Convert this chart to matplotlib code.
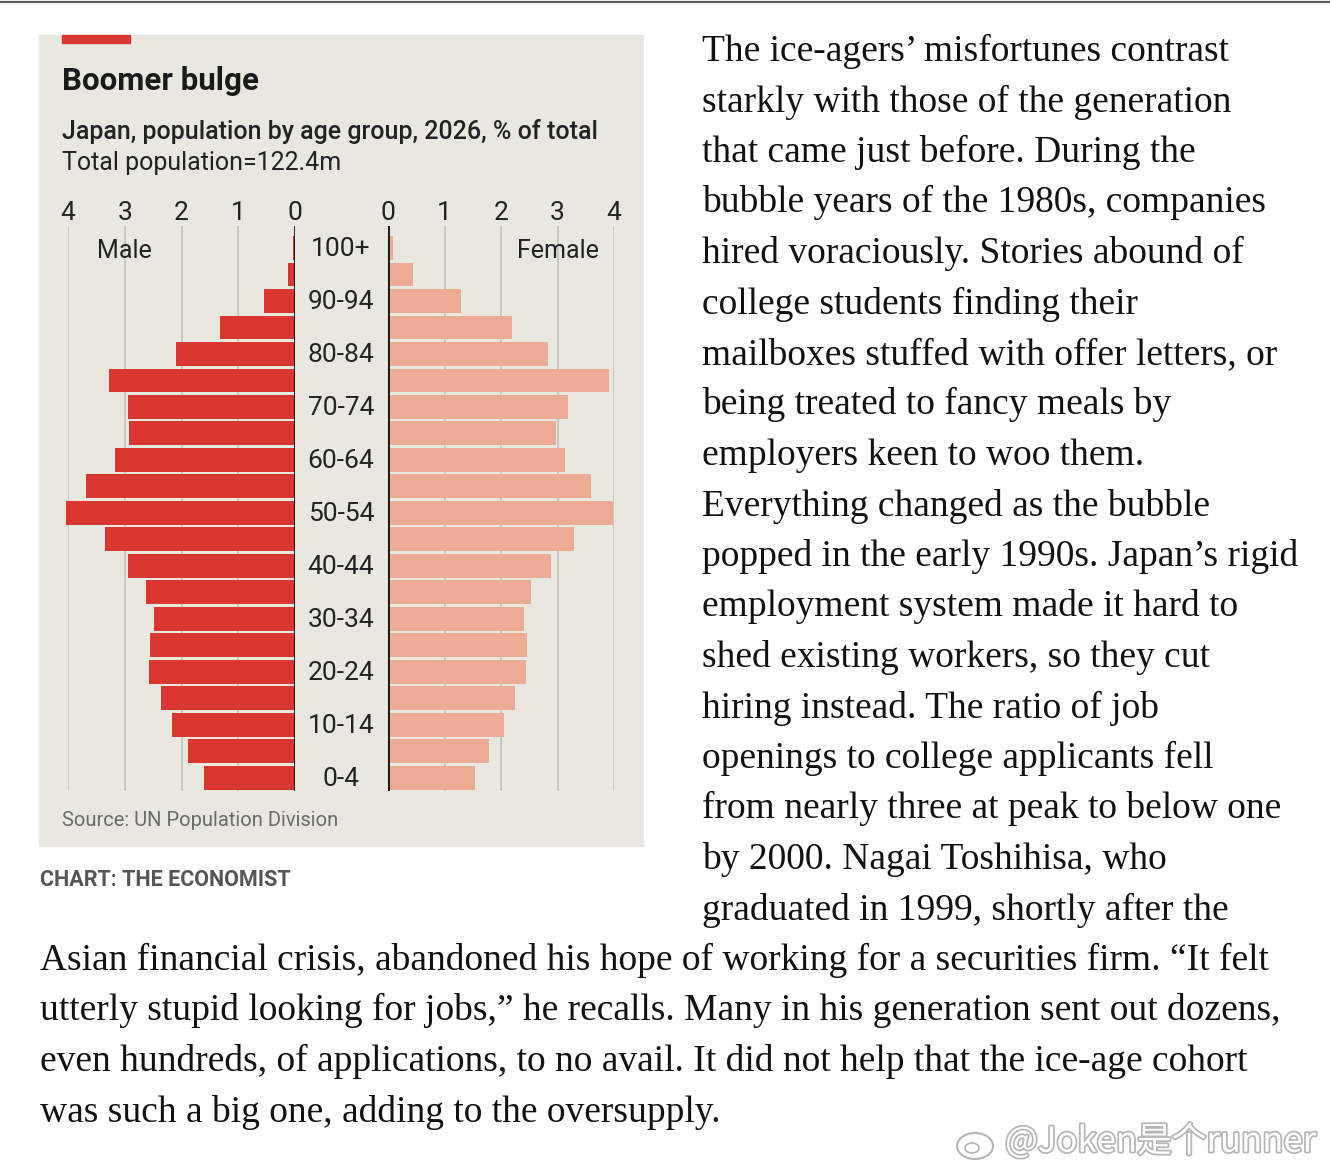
import matplotlib
matplotlib.use("Agg")
import matplotlib.pyplot as plt
import matplotlib.patheffects as pe
import matplotlib.transforms as mtransforms
from matplotlib.patches import Rectangle, Ellipse
from matplotlib.lines import Line2D

W, H = 1330, 1174

# data: Japan population by age group, 2026, % of total
ages = ["0-4", "5-9", "10-14", "15-19", "20-24", "25-29", "30-34", "35-39",
        "40-44", "45-49", "50-54", "55-59", "60-64", "65-69", "70-74",
        "75-79", "80-84", "85-89", "90-94", "95-99", "100+"]
male = [1.60, 1.88, 2.17, 2.37, 2.57, 2.55, 2.49, 2.62, 2.94, 3.34, 4.03,
        3.68, 3.17, 2.92, 2.94, 3.28, 2.10, 1.32, 0.55, 0.12, 0.03]
female = [1.54, 1.79, 2.06, 2.25, 2.45, 2.46, 2.40, 2.53, 2.88, 3.30, 3.98,
          3.60, 3.13, 2.98, 3.18, 3.91, 2.83, 2.19, 1.30, 0.45, 0.08]
ticks = [0, 1, 2, 3, 4]

body_right = [
    "The ice-agers\u2019 misfortunes contrast",
    "starkly with those of the generation",
    "that came just before. During the",
    "bubble years of the 1980s, companies",
    "hired voraciously. Stories abound of",
    "college students finding their",
    "mailboxes stuffed with offer letters, or",
    "being treated to fancy meals by",
    "employers keen to woo them.",
    "Everything changed as the bubble",
    "popped in the early 1990s. Japan\u2019s rigid",
    "employment system made it hard to",
    "shed existing workers, so they cut",
    "hiring instead. The ratio of job",
    "openings to college applicants fell",
    "from nearly three at peak to below one",
    "by 2000. Nagai Toshihisa, who",
    "graduated in 1999, shortly after the",
]
body_full = [
    "Asian financial crisis, abandoned his hope of working for a securities firm. \u201cIt felt",
    "utterly stupid looking for jobs,\u201d he recalls. Many in his generation sent out dozens,",
    "even hundreds, of applications, to no avail. It did not help that the ice-age cohort",
    "was such a big one, adding to the oversupply.",
]

RED = "#db3731"
PINK = "#ecac93"
BG = "#e9e8e0"
GRID = "#c8c8c2"
INK = "#222222"
SANS = ["Roboto", "DejaVu Sans"]
SERIF = ["Liberation Serif", "DejaVu Serif"]


def fx(x):
    return x / W


def fy(y):
    return 1 - y / H


def box(x0, y0, x1, y1):
    return [fx(x0), fy(y1), (x1 - x0) / W, (y1 - y0) / H]


fig = plt.figure(figsize=(W / 100, H / 100), dpi=100)
fig.patch.set_facecolor("white")

# top rule of the page
fig.add_artist(Line2D([0, 1], [fy(1.5), fy(1.5)], color="#5a5a5a", lw=1.6))

# chart panel + red tag
fig.add_artist(Rectangle((fx(39), fy(846)), (643 - 39) / W, (846 - 35) / H,
                         transform=fig.transFigure, color=BG, zorder=0))
fig.add_artist(Rectangle((fx(62), fy(43)), (130 - 62) / W, 8 / H,
                         transform=fig.transFigure, color=RED, zorder=1))

fig.text(fx(62), fy(81), "Boomer bulge", fontsize=22.5, fontweight="bold",
         family=SANS, color="#1a1a1a", va="center")
fig.text(fx(62), fy(131), "Japan, population by age group, 2026, % of total",
         fontsize=18, fontweight="medium", family=SANS, color=INK, va="center")
fig.text(fx(62), fy(163), "Total population=122.4m", fontsize=18,
         family=SANS, color=INK, va="center")

y = list(range(len(ages)))
ylim = (-0.5, 20.83)

ax_m = fig.add_axes(box(68, 226, 295, 791))
ax_f = fig.add_axes(box(388, 226, 614, 791))

ax_m.barh(y, male, height=0.9, color=RED, zorder=2, clip_on=False)
ax_f.barh(y, female, height=0.9, color=PINK, zorder=2, clip_on=False)
ax_m.set_xlim(4, 0)
ax_f.set_xlim(0, 4)

for ax in (ax_m, ax_f):
    ax.set_facecolor("none")
    ax.set_ylim(*ylim)
    for s in ax.spines.values():
        s.set_visible(False)
    ax.set_yticks([])
    ax.set_xticks(ticks)
    ax.xaxis.tick_top()
    ax.tick_params(axis="x", length=0, pad=1, labelsize=19, labelcolor=INK)
    for lab in ax.get_xticklabels():
        lab.set_family(SANS)
    for t in ticks[1:]:
        ax.axvline(t, color=GRID, lw=1.4, zorder=1)
    ax.axvline(0, color="#111111", lw=2, zorder=3)

ax_m.text(3, 19.9, "Male", ha="center", va="center", fontsize=18,
          family=SANS, color=INK)
ax_f.text(3, 19.9, "Female", ha="center", va="center", fontsize=18,
          family=SANS, color=INK)

trans = mtransforms.blended_transform_factory(fig.transFigure, ax_m.transData)
for i, a in enumerate(ages):
    if i % 2 == 0:
        fig.text(fx(341), i - 0.05, a, transform=trans, ha="center", va="center",
                 fontsize=19, family=SANS, color=INK)

fig.text(fx(62), fy(821), "Source: UN Population Division", fontsize=14.5,
         family=SANS, color="#6a6a6a", va="center")
fig.text(fx(40), fy(880), "CHART: THE ECONOMIST", fontsize=15.5,
         fontweight="bold", family=SANS, color="#555555", va="center")

# article text
step = 50.5
base0 = 61
for i, line in enumerate(body_right):
    fig.text(fx(702), fy(base0 + i * step), line, fontsize=27, family=SERIF,
             color="#111111", va="baseline")
for j, line in enumerate(body_full):
    i = j + len(body_right)
    fig.text(fx(40), fy(base0 + i * step), line, fontsize=27, family=SERIF,
             color="#111111", va="baseline")

# watermark
halo = [pe.withStroke(linewidth=2.5, foreground="#b5b5b5")]
fig.add_artist(Ellipse((fx(975), fy(1146)), 36 / W, 26 / H, transform=fig.transFigure,
                       facecolor="white", edgecolor="#b5b5b5", lw=1.5, zorder=5))
fig.add_artist(Ellipse((fx(972), fy(1148)), 14 / W, 10 / H, transform=fig.transFigure,
                       facecolor="white", edgecolor="#b5b5b5", lw=1.2, zorder=6))
fig.text(fx(1005), fy(1142), "@Joken\u662f\u4e2arunner", fontsize=25, color="white",
         family=["Noto Sans CJK SC", "DejaVu Sans"], va="center",
         path_effects=halo, zorder=6)

fig.savefig("out.png", dpi=100)
